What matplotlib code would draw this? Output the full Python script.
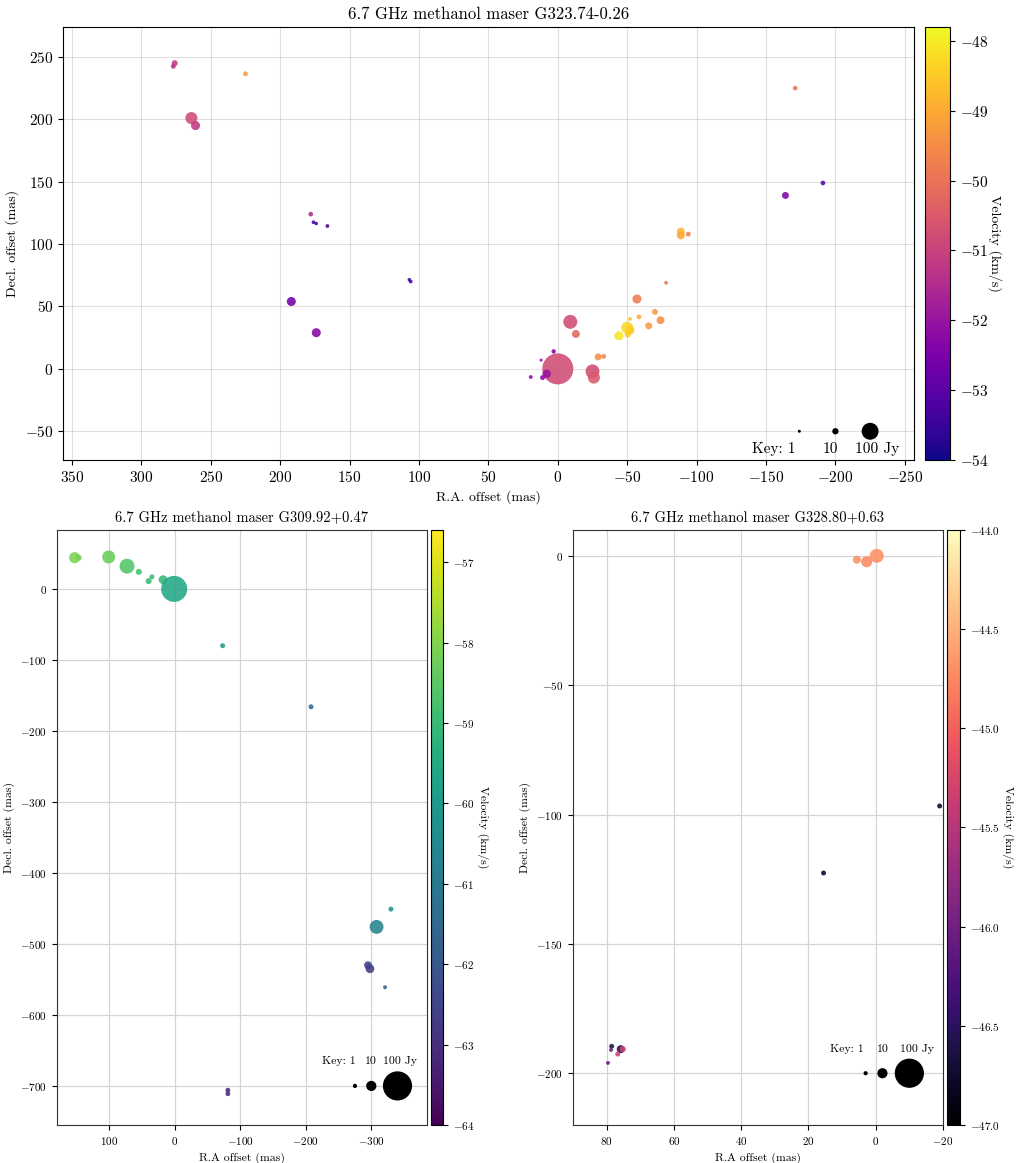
import numpy as np
import matplotlib
matplotlib.use('Agg')
import matplotlib.pyplot as plt
from matplotlib.cm import ScalarMappable
from matplotlib.colors import Normalize

plt.rcParams.update({
    "font.family": "serif",
    "font.serif": ["cmr10", "DejaVu Serif"],
    "mathtext.fontset": "cm",
    "axes.formatter.use_mathtext": True,
    "axes.unicode_minus": True,
})

# ---- G323.74-0.26 (top) ----
ra1 = [276, 277, 225, 264, 261, 178, 176, 174, 166, 107, 106, 192, 174,
       0, 3, 12, 19.5, 11, 8, -9, -13, -25, -26, -29, -33, -57, -58.5,
       -70, -74, -65.5, -50, -52, -52, -50.4, -44, -78, -88.6, -88.6, -94,
       -171, -164, -191]
dec1 = [245, 242.5, 236.5, 201, 195, 124, 117.5, 116.5, 114.5, 71.5, 70,
        54, 29, 0, 14, 7, -6.5, -7, -4, 37.7, 28, -2, -7, 9.6, 10, 56,
        41.7, 45.7, 39, 34.5, 33, 31, 40, 27.5, 26.5, 69, 110, 107, 108,
        225, 139, 149]
vel1 = [-51.2, -51.3, -49.2, -50.8, -51.2, -51.5, -53.3, -53.3, -53.3,
        -53.4, -53.3, -52.6, -52.3, -50.8, -52.4, -52.0, -52.3, -52.3,
        -52.0, -50.8, -50.2, -50.8, -50.5, -49.4, -49.6, -49.8, -49.0,
        -49.3, -49.5, -49.3, -48.3, -48.5, -48.6, -48.5, -48.1, -49.9,
        -48.8, -49.0, -49.7, -50.0, -52.4, -53.0]
flux1 = [15, 10, 10, 60, 34, 9, 6, 5, 6, 5, 6, 34, 34, 400, 8, 4, 6, 10,
         30, 81, 26, 81, 60, 20, 10, 34, 9, 14, 26, 20, 60, 34, 6, 15, 34,
         6, 26, 26, 10, 9, 20, 9]

# ---- G309.92+0.47 (bottom left) ----
ra2 = [153, 147, 101, 73, 55, 40, 35, 18, 1, -73, -208, -330, -308,
       -295, -298, -321, -81, -81]
dec2 = [44, 44, 45, 32, 24, 11, 17, 13, 0, -80, -166, -451, -476, -530,
        -535, -561, -706, -711]
vel2 = [-58.1, -58.1, -58.3, -58.6, -58.8, -59.0, -59.0, -59.1, -59.6,
        -60.0, -61.5, -60.2, -60.7, -62.6, -62.6, -61.8, -63.0, -63.0]
flux2 = [16, 5, 22, 29, 4.7, 4.7, 3.2, 10, 88, 3.2, 3.2, 3.2, 25, 8, 10,
         2, 3, 3]

# ---- G328.80+0.63 (bottom right) ----
ra3 = [5.6, 2.7, -0.3, -19, 15.5, 78.5, 78.7, 75.8, 76.7, 75.2, 79.6]
dec3 = [-1.5, -2.3, 0, -96.7, -122.6, -189.6, -191, -190.7, -192.6,
        -190.7, -196]
vel3 = [-44.7, -44.75, -44.7, -46.8, -46.8, -46.6, -46.0, -46.6, -45.3,
        -45.3, -46.0]
flux3 = [8.3, 15.7, 25.4, 3.2, 3.2, 3.2, 2, 8.3, 3.2, 4.7, 2]

key_flux = [1, 10, 100]
key_labels = ["Key: 1", "10", "100 Jy"]

fig = plt.figure(figsize=(10.19, 11.63), dpi=100)


def panel(rect, crect, ra, dec, vel, flux, cmap, vmin, vmax, k, title,
          xlab, fs, tfs, lfs, gridkw, keypos, keytxt, spine, lpad):
    ax = fig.add_axes(rect)
    cax = fig.add_axes(crect)
    norm = Normalize(vmin=vmin, vmax=vmax)
    ax.scatter(ra, dec, s=np.array(flux) * k, c=vel, cmap=cmap, norm=norm,
               alpha=0.88, linewidths=0, zorder=3)
    kx, ky = keypos
    ax.scatter(kx, [ky] * 3, s=np.array(key_flux) * k, c='k',
               edgecolors='k', zorder=4)
    for (tx, ty), lab in zip(keytxt, key_labels):
        ax.text(tx, ty, lab, ha='center', va='center', fontsize=lfs)
    ax.grid(True, **gridkw)
    ax.set_axisbelow(True)
    ax.set_title(title, fontsize=tfs)
    ax.set_xlabel(xlab, fontsize=lfs)
    ax.set_ylabel('Decl. offset (mas)', fontsize=lfs)
    ax.tick_params(labelsize=fs)
    for sp in ax.spines.values():
        sp.set_color(spine)
    cb = fig.colorbar(ScalarMappable(norm=norm, cmap=cmap), cax=cax)
    cb.set_label('Velocity (km/s)', rotation=270, labelpad=lpad, fontsize=lfs)
    cb.ax.tick_params(labelsize=fs)
    return ax


ax1 = panel([0.0618, 0.6045, 0.835, 0.3723], [0.9078, 0.6045, 0.0245, 0.3723],
            ra1, dec1, vel1, flux1, 'plasma', -54, -47.8, 1.25,
            '6.7 GHz methanol maser G323.74-0.26', 'R.A. offset (mas)',
            11, 12, 10,
            dict(color='#999999', alpha=0.3, linewidth=0.8),
            ([-174, -200, -225], -50),
            [(-155.6, -64), (-196.7, -64), (-229.8, -64)], 'black', 10)
for t in ax1.texts:
    t.set_fontsize(11)
ax1.set_xlim(356.5, -256.5)
ax1.set_ylim(-73, 274)
ax1.set_xticks(np.arange(350, -251, -50))
ax1.set_yticks(np.arange(-50, 251, 50))

ax2 = panel([0.0559, 0.0327, 0.3631, 0.5116], [0.423, 0.0327, 0.0118, 0.5116],
            ra2, dec2, vel2, flux2, 'viridis', -64, -56.6, 4,
            '6.7 GHz methanol maser G309.92+0.47', 'R.A offset (mas)',
            8, 10.5, 8.5,
            dict(color='#d5d5d5', linewidth=0.9),
            ([-275, -300, -340], -700),
            [(-250, -665), (-299, -665), (-343.5, -665)], '#333333', 10)
ax2.set_xlim(180, -385)
ax2.set_ylim(-755, 83)
ax2.set_xticks([100, 0, -100, -200, -300])
ax2.set_yticks(np.arange(-700, 1, 100))

ax3 = panel([0.5623, 0.0327, 0.3631, 0.5116], [0.9293, 0.0327, 0.0128, 0.5116],
            ra3, dec3, vel3, flux3, 'magma', -47, -44, 4,
            '6.7 GHz methanol maser G328.80+0.63', 'R.A offset (mas)',
            8, 10.5, 8.5,
            dict(color='#d5d5d5', linewidth=0.9),
            ([3, -2, -10], -200),
            [(8.6, -190.7), (-2, -190.7), (-12.2, -190.7)], '#333333', 10)
ax3.set_xlim(90, -20)
ax3.set_ylim(-220, 10)
ax3.set_xticks([80, 60, 40, 20, 0, -20])
ax3.set_yticks([-200, -150, -100, -50, 0])

plt.savefig('out.png', dpi=100)
